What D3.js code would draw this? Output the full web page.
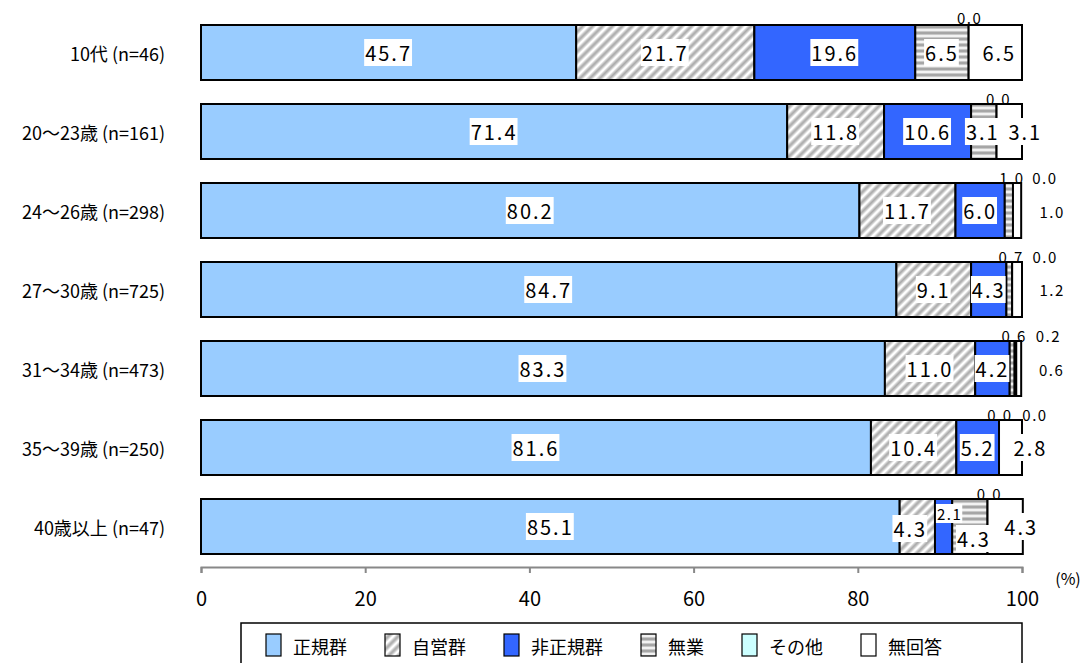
<!DOCTYPE html>
<html><head><meta charset="utf-8">
<script src="https://cdn.jsdelivr.net/npm/d3@7"></script>
<style>
html,body{margin:0;padding:0;background:#fff;}
svg{display:block;font-family:"Noto Sans CJK JP","Noto Sans",sans-serif;}
</style></head>
<body>
<svg id="chart" width="1082" height="663"></svg>
<script>
const categories = ["10代(n=46)","20～23歳(n=161)","24～26歳(n=298)","27～30歳(n=725)","31～34歳(n=473)","35～39歳(n=250)","40歳以上(n=47)"];
const seriesNames = ["正規群","自営群","非正規群","無業","その他","無回答"];
const seiki   = [45.7, 71.4, 80.2, 84.7, 83.3, 81.6, 85.1];
const jiei    = [21.7, 11.8, 11.7,  9.1, 11.0, 10.4,  4.3];
const hiseiki = [19.6, 10.6,  6.0,  4.3,  4.2,  5.2,  2.1];
const mugyo   = [ 6.5,  3.1,  1.0,  0.7,  0.6,  0.0,  4.3];
const sonota  = [ 0.0,  0.0,  0.0,  0.0,  0.2,  0.0,  0.0];
const mukaito = [ 6.5,  3.1,  1.0,  1.2,  0.6,  2.8,  4.3];
const xTicks = [0, 20, 40, 60, 80, 100];

const seriesValues = [seiki, jiei, hiseiki, mugyo, sonota, mukaito];
const fills = ["#99CCFF","url(#hatch)","#3366FF","url(#hstripe)","#CCFFFF","#FFFFFF"];

// label placement tweaks (layout only): key "row-series"
const tweak = {
  "0-4":{dx:1,dy:-35,small:true,bg:false},
  "0-5":{dx:4},
  "1-4":{dx:2,dy:-33,small:true,bg:false},
  "1-3":{dx:-1},
  "1-5":{dx:16},
  "2-3":{dx:3,dy:-33,small:true,bg:false},
  "2-4":{dx:32,dy:-33,small:true,bg:false},
  "2-5":{dx:35,dy:1,small:true,bg:false},
  "3-3":{dx:2,dy:-33,small:true,bg:false},
  "3-4":{dx:33,dy:-33,small:true,bg:false},
  "3-5":{dx:35,dy:0,small:true,bg:false},
  "4-3":{dx:2,dy:-33,small:true,bg:false},
  "4-4":{dx:33,dy:-33,small:true,bg:false},
  "4-5":{dx:33,dy:1,small:true,bg:false},
  "5-3":{dx:1,dy:-33,small:true,bg:false},
  "5-4":{dx:36,dy:-33,small:true,bg:false},
  "5-5":{dx:20,dy:0},
  "6-1":{dx:-7,dy:2},
  "6-2":{dx:6,dy:-13,small:true,bg:true},
  "6-3":{dx:4,dy:12},
  "6-4":{dx:2,dy:-33,small:true,bg:false},
  "6-5":{dx:16,dy:0}
};

const svg = d3.select("#chart");
const defs = svg.append("defs");
// diagonal hatch
const ph = defs.append("pattern").attr("id","hatch").attr("patternUnits","userSpaceOnUse")
  .attr("width",7).attr("height",7).attr("patternTransform","rotate(45)");
ph.append("rect").attr("width",7).attr("height",7).attr("fill","#fff");
ph.append("line").attr("x1",3.5).attr("y1",0).attr("x2",3.5).attr("y2",7).attr("stroke","#d2d2d2").attr("stroke-width",4.5);
ph.append("line").attr("x1",3.5).attr("y1",0).attr("x2",3.5).attr("y2",7).attr("stroke","#ababab").attr("stroke-width",2);
// horizontal stripes
const ps = defs.append("pattern").attr("id","hstripe").attr("patternUnits","userSpaceOnUse")
  .attr("width",6).attr("height",6);
ps.append("rect").attr("width",6).attr("height",6).attr("fill","#f2f2f2");
ps.append("rect").attr("y",1).attr("width",6).attr("height",4).attr("fill","#c8c8c8");
ps.append("rect").attr("y",2).attr("width",6).attr("height",2).attr("fill","#a6a6a6");

const x = d3.scaleLinear().domain([0,100]).range([201,1022]);
const y = d3.scaleBand().domain(categories).range([25,554]).paddingInner(24/79).paddingOuter(0);

// stacked data
const rows = categories.map((c,i)=>{
  let cum = 0;
  return seriesValues.map((arr,s)=>{
    const v = arr[i]; const seg = {row:i, s, cat:c, v, x0:cum, x1:cum+v}; cum += v; return seg;
  });
});

const g = svg.append("g");
rows.forEach(segs=>{
  g.selectAll(null).data(segs).enter().append("rect")
    .attr("x",d=>x(d.x0)).attr("y",d=>y(d.cat))
    .attr("width",d=>Math.max(0,x(d.x1)-x(d.x0))).attr("height",y.bandwidth())
    .attr("fill",d=>fills[d.s]).attr("stroke","#000").attr("stroke-width",2);
});

// labels
const lg = svg.append("g");
rows.forEach(segs=>{
  segs.forEach(d=>{
    const t = tweak[d.row+"-"+d.s] || {};
    const cx = (x(d.x0)+x(d.x1))/2 + (t.dx||0);
    const cy = y(d.cat)+y.bandwidth()/2 + (t.dy||0);
    const size = t.small ? 15 : 20;
    const bg = t.bg === undefined ? true : t.bg;
    const txt = lg.append("text").attr("x",cx).attr("y",cy)
      .attr("text-anchor","middle").attr("dominant-baseline","central")
      .attr("font-size",size).attr("letter-spacing", t.small ? 1.5 : 2).attr("fill","#000")
      .text(d.v.toFixed(1));
    if (bg) {
      const bb = txt.node().getBBox();
      lg.insert("rect", function(){return txt.node();})
        .attr("x",bb.x-1).attr("y",bb.y+1).attr("width",bb.width+1).attr("height",bb.height-2)
        .attr("fill","#fff");
    }
  });
});

// category labels (split so the bracket gets a small gap like the original)
const cl = svg.append("g").selectAll("text").data(categories).enter().append("text")
  .attr("x",165).attr("y",d=>y(d)+y.bandwidth()/2)
  .attr("text-anchor","end").attr("dominant-baseline","central")
  .attr("font-size",18).attr("fill","#000");
cl.each(function(d){
  const k = d.indexOf("(");
  const sel = d3.select(this);
  sel.append("tspan").text(d.slice(0,k));
  sel.append("tspan").attr("dx",4).text(d.slice(k));
});

// x axis
const ax = svg.append("g").attr("transform","translate(0,567)")
  .call(d3.axisBottom(x).tickValues(xTicks).tickSize(6).tickPadding(19).tickFormat(d3.format("d")));
ax.select(".domain").attr("stroke","#888").attr("stroke-width",2);
ax.selectAll(".tick line").attr("stroke","#888").attr("stroke-width",2);
ax.selectAll(".tick text").attr("font-size",20).attr("fill","#000").attr("font-family","'Noto Sans CJK JP',sans-serif");
svg.append("text").attr("x",1068).attr("y",578).attr("text-anchor","middle")
  .attr("dominant-baseline","central").attr("font-size",16).text("(%)");

// legend
svg.append("rect").attr("x",241).attr("y",623).attr("width",781).attr("height",60)
  .attr("fill","#fff").attr("stroke","#000").attr("stroke-width",1.5);
let lx = 266;
seriesNames.forEach((n,s)=>{
  svg.append("rect").attr("x",lx).attr("y",634).attr("width",15).attr("height",22)
    .attr("fill",fills[s]).attr("stroke","#000").attr("stroke-width",1.2);
  const t = svg.append("text").attr("x",lx+27).attr("y",646).attr("dominant-baseline","central")
    .attr("font-size",18).attr("fill","#000").text(n);
  lx += 27 + t.node().getComputedTextLength() + 38;
});
</script>
</body></html>
